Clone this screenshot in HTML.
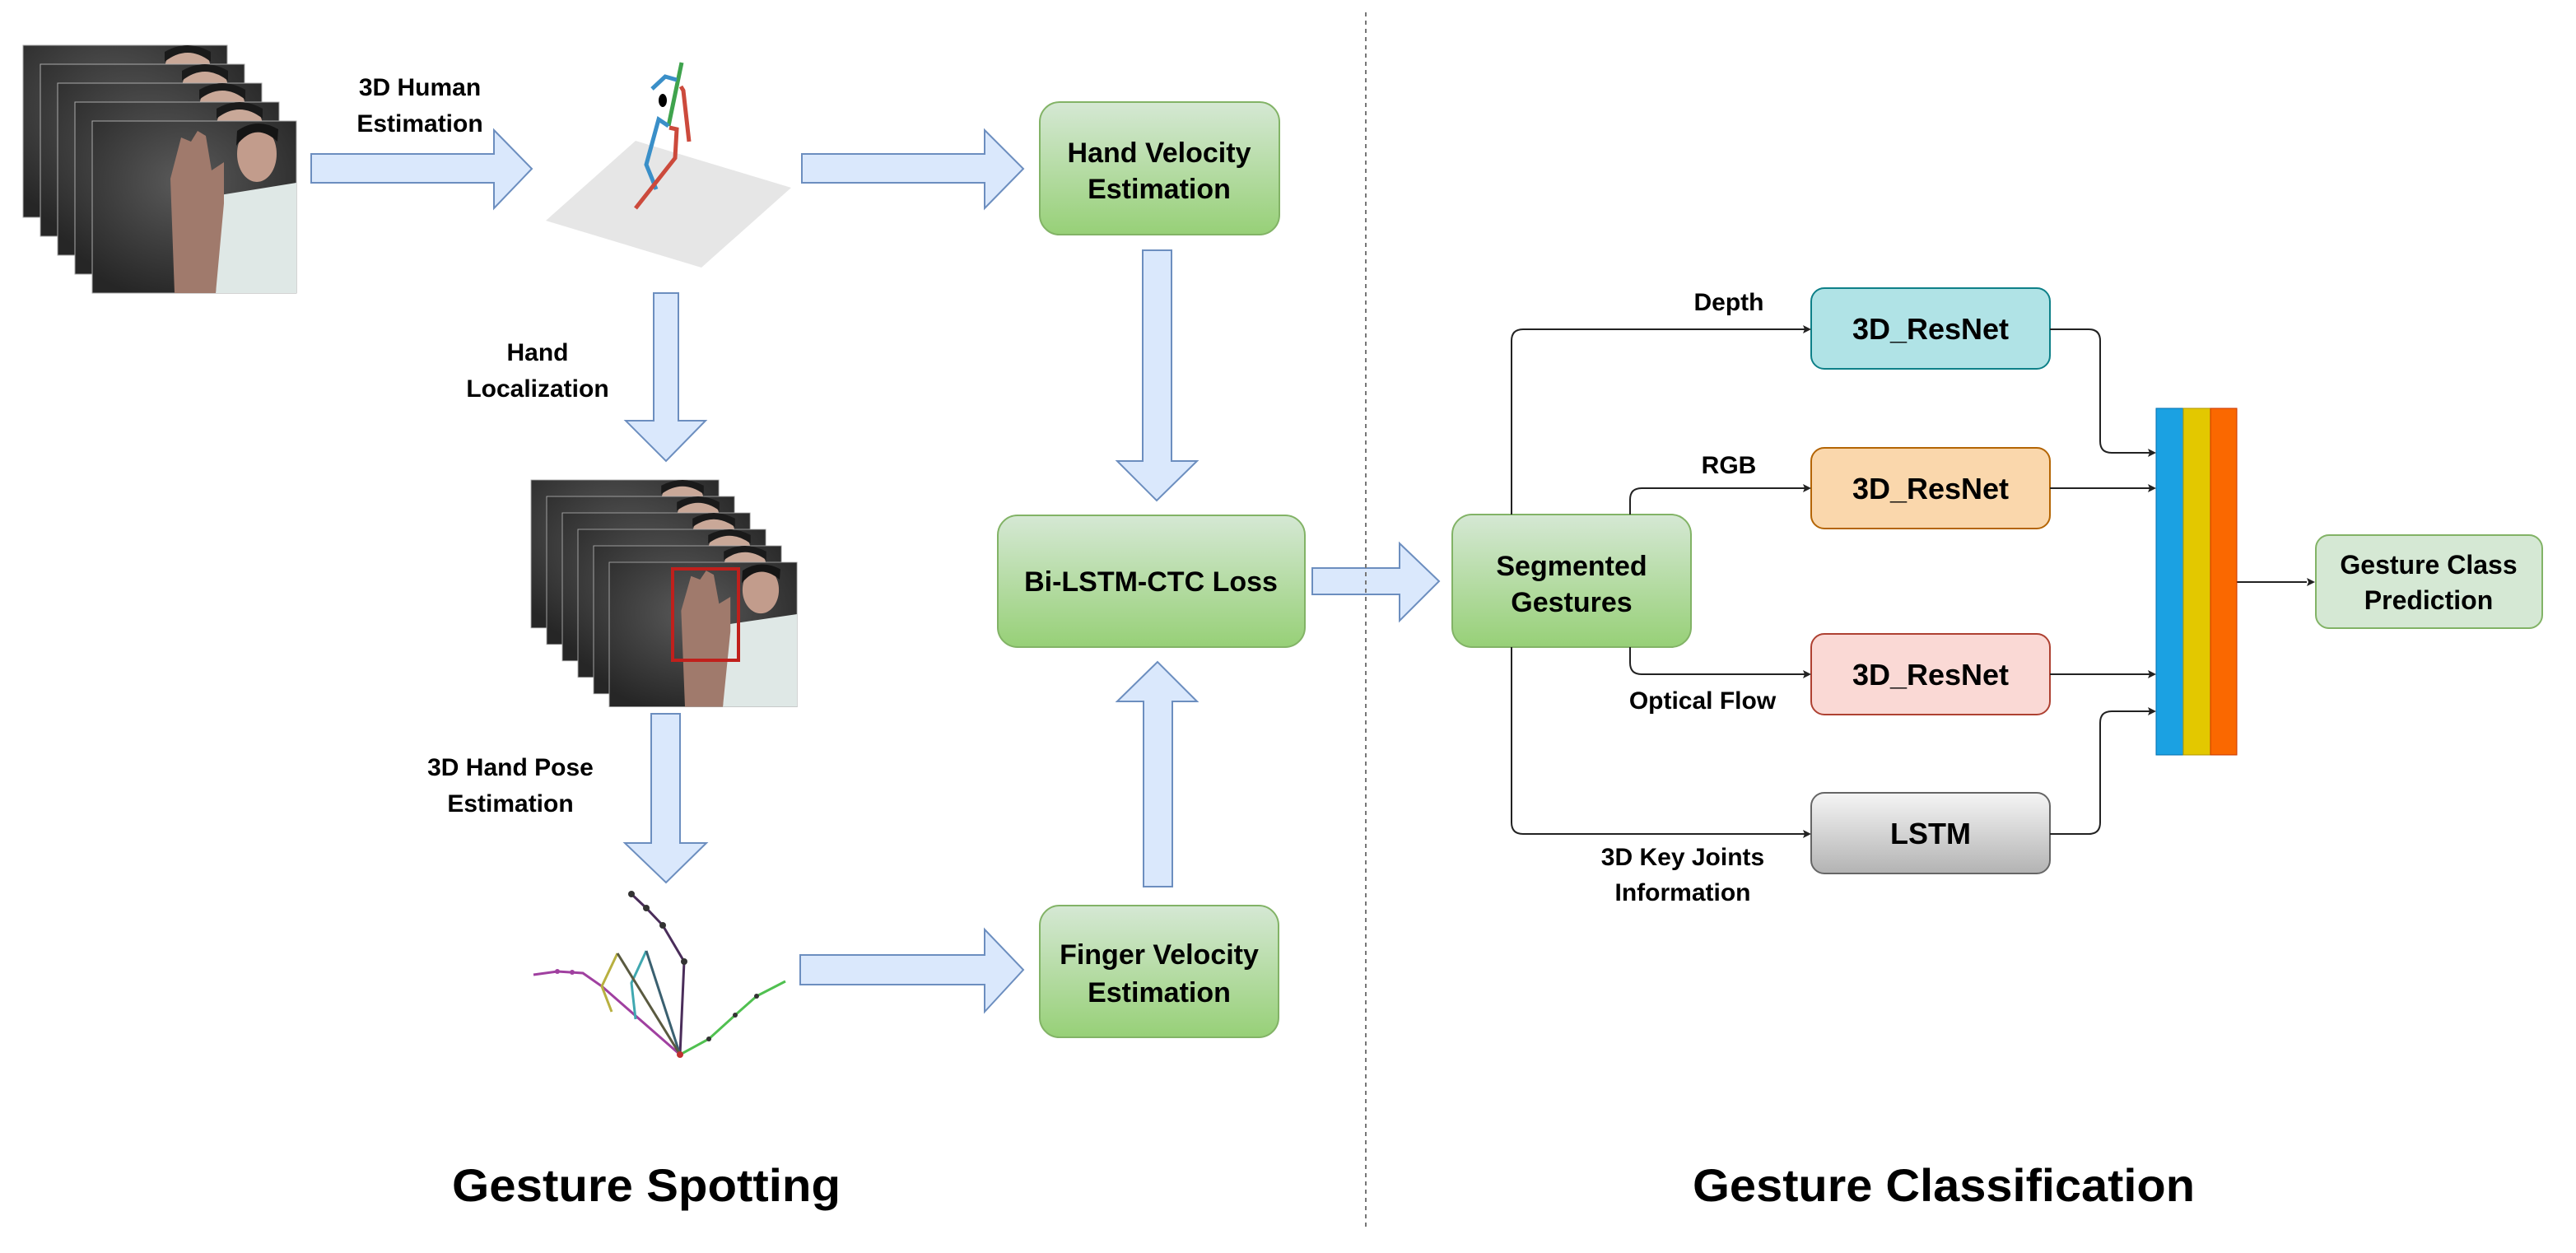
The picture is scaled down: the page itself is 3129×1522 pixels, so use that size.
<!DOCTYPE html>
<html><head><meta charset="utf-8"><style>
html,body{margin:0;padding:0;background:#fff;}
svg{display:block;}
text{font-family:"Liberation Sans",Arial,sans-serif;font-weight:bold;fill:#000;}
</style></head><body>
<svg width="3129" height="1522" viewBox="0 0 3129 1522" xmlns="http://www.w3.org/2000/svg">
<defs>
<linearGradient id="gg" x1="0" y1="0" x2="0" y2="1"><stop offset="0" stop-color="#d5e8d4"/><stop offset="1" stop-color="#97d077"/></linearGradient>
<linearGradient id="gr" x1="0" y1="0" x2="0" y2="1"><stop offset="0" stop-color="#f5f5f5"/><stop offset="1" stop-color="#b3b3b3"/></linearGradient>
<radialGradient id="bg" cx="0.45" cy="0.35" r="0.7"><stop offset="0" stop-color="#5a5a5a"/><stop offset="1" stop-color="#262626"/></radialGradient>
<g id="fr">
<rect x="0" y="0" width="248" height="209" fill="url(#bg)" stroke="#aaa" stroke-width="1"/>
<ellipse cx="200" cy="30" rx="28" ry="30" fill="#c9a898"/>
<path d="M172 20 Q200 -2 228 20 L228 8 Q200 -8 172 8Z" fill="#1a1a1a"/>
</g>
<g id="frf">
<rect x="0" y="0" width="248" height="209" fill="url(#bg)" stroke="#aaa" stroke-width="1"/>
<path d="M150 209 L155 90 L248 75 L248 209Z" fill="#dfe8e6"/>
<ellipse cx="200" cy="40" rx="24" ry="34" fill="#c29c8c"/>
<path d="M175 30 Q198 0 225 25 L226 10 Q200 -5 176 12Z" fill="#151515"/>
<path d="M100 209 L95 70 L108 20 L120 25 L128 12 L138 18 L145 60 L160 50 L160 100 L150 209Z" fill="#a07a6c"/>
</g>
</defs>

<!-- photo stack 1 -->
<use href="#fr" x="28" y="55"/>
<use href="#fr" x="49" y="78"/>
<use href="#fr" x="70" y="101"/>
<use href="#fr" x="91" y="124"/>
<use href="#frf" x="112" y="147"/>

<!-- photo stack 2 -->
<g transform="translate(645,583) scale(0.92,0.86)"><use href="#fr"/></g>
<g transform="translate(664,603) scale(0.92,0.86)"><use href="#fr"/></g>
<g transform="translate(683,623) scale(0.92,0.86)"><use href="#fr"/></g>
<g transform="translate(702,643) scale(0.92,0.86)"><use href="#fr"/></g>
<g transform="translate(721,663) scale(0.92,0.86)"><use href="#fr"/></g>
<g transform="translate(740,683) scale(0.92,0.84)"><use href="#frf"/></g>
<rect x="817" y="691" width="80" height="111" fill="none" stroke="#c0201c" stroke-width="4"/>

<!-- 3D human skeleton -->
<polygon points="663,268 772,171 961,228 852,325" fill="#e6e6e6"/>
<polyline points="828,76 812,153" fill="none" stroke="#3fa34d" stroke-width="5"/>
<polyline points="792,108 808,93 822,97" fill="none" stroke="#3a8fc8" stroke-width="5"/>
<polyline points="812,153 800,145 785,200 792,217 797,230" fill="none" stroke="#3a8fc8" stroke-width="5"/>
<polyline points="827,105 830,110 837,172" fill="none" stroke="#cc4a3c" stroke-width="5"/>
<polyline points="813,155 822,157 820,192 772,253" fill="none" stroke="#cc4a3c" stroke-width="5"/>
<ellipse cx="805" cy="122" rx="5" ry="8" fill="#000"/>

<!-- hand skeleton -->
<g fill="none" stroke-width="3">
<polyline points="767,1086 785,1103 805,1124 831,1168 826,1281" stroke="#4a2d5a"/>
<polyline points="648,1184 677,1180 708,1182 731,1198 826,1281" stroke="#a040a0"/>
<polyline points="750,1158 731,1198 743,1229" stroke="#b8b040"/>
<polyline points="785,1155 767,1194 772,1238" stroke="#40a8b0"/>
<polyline points="785,1155 826,1281" stroke="#3a6070"/>
<polyline points="750,1158 826,1281" stroke="#5a5a40"/>
<polyline points="954,1192 919,1210 893,1233 861,1262 826,1281" stroke="#50c050"/>
</g>
<g fill="#333"><circle cx="767" cy="1086" r="4"/><circle cx="785" cy="1103" r="4"/><circle cx="805" cy="1124" r="4"/><circle cx="831" cy="1168" r="4"/><circle cx="919" cy="1210" r="3"/><circle cx="893" cy="1233" r="3"/><circle cx="861" cy="1262" r="3"/><circle cx="826" cy="1281" r="4" fill="#c03030"/><circle cx="677" cy="1180" r="3" fill="#a040a0"/><circle cx="695" cy="1181" r="3" fill="#a040a0"/></g>

<!-- block arrows -->
<g fill="#dae8fc" stroke="#6c8ebf" stroke-width="2">
<polygon points="378,187 600,187 600,158 646,205 600,253 600,222 378,222"/>
<polygon points="974,187 1196,187 1196,158 1243,205 1196,253 1196,222 974,222"/>
<polygon points="972,1160 1196,1160 1196,1129 1243,1178 1196,1229 1196,1196 972,1196"/>
<polygon points="794,356 824,356 824,511 857,511 809,560 760,511 794,511"/>
<polygon points="791,867 826,867 826,1024 858,1024 809,1072 759,1024 791,1024"/>
<polygon points="1388,304 1423,304 1423,560 1454,560 1405,608 1357,560 1388,560"/>
<polygon points="1389,1077 1424,1077 1424,852 1454,852 1406,804 1357,852 1389,852"/>
<polygon points="1594,690 1700,690 1700,660 1748,706 1700,754 1700,722 1594,722"/>
</g>

<!-- dashed divider -->
<line x1="1659" y1="15" x2="1659" y2="1495" stroke="#777" stroke-width="2" stroke-dasharray="5,5"/>

<!-- left boxes -->
<rect x="1263" y="124" width="291" height="161" rx="24" fill="url(#gg)" stroke="#82b366" stroke-width="2"/>
<rect x="1212" y="626" width="373" height="160" rx="24" fill="url(#gg)" stroke="#82b366" stroke-width="2"/>
<rect x="1263" y="1100" width="290" height="160" rx="24" fill="url(#gg)" stroke="#82b366" stroke-width="2"/>
<text x="1408" y="197" font-size="34" text-anchor="middle">Hand Velocity</text>
<text x="1408" y="241" font-size="34" text-anchor="middle">Estimation</text>
<text x="1398" y="718" font-size="34" text-anchor="middle">Bi-LSTM-CTC Loss</text>
<text x="1408" y="1171" font-size="34" text-anchor="middle">Finger Velocity</text>
<text x="1408" y="1217" font-size="34" text-anchor="middle">Estimation</text>

<!-- left labels -->
<text x="510" y="116" font-size="30" text-anchor="middle">3D Human</text>
<text x="510" y="160" font-size="30" text-anchor="middle">Estimation</text>
<text x="653" y="438" font-size="30" text-anchor="middle">Hand</text>
<text x="653" y="482" font-size="30" text-anchor="middle">Localization</text>
<text x="620" y="942" font-size="30" text-anchor="middle">3D Hand Pose</text>
<text x="620" y="986" font-size="30" text-anchor="middle">Estimation</text>

<!-- right side -->
<rect x="1764" y="625" width="290" height="161" rx="24" fill="url(#gg)" stroke="#82b366" stroke-width="2"/>
<text x="1909" y="699" font-size="34" text-anchor="middle">Segmented</text>
<text x="1909" y="743" font-size="34" text-anchor="middle">Gestures</text>

<rect x="2200" y="350" width="290" height="98" rx="16" fill="#b0e3e6" stroke="#0e8088" stroke-width="2"/>
<rect x="2200" y="544" width="290" height="98" rx="16" fill="#fad7ac" stroke="#b46504" stroke-width="2"/>
<rect x="2200" y="770" width="290" height="98" rx="16" fill="#fad9d5" stroke="#ae4132" stroke-width="2"/>
<rect x="2200" y="963" width="290" height="98" rx="16" fill="url(#gr)" stroke="#666" stroke-width="2"/>
<text x="2345" y="412" font-size="36" text-anchor="middle">3D_ResNet</text>
<text x="2345" y="606" font-size="36" text-anchor="middle">3D_ResNet</text>
<text x="2345" y="832" font-size="36" text-anchor="middle">3D_ResNet</text>
<text x="2345" y="1025" font-size="36" text-anchor="middle">LSTM</text>

<g fill="none" stroke="#222" stroke-width="2">
<path d="M1836 625 V414 Q1836 400 1850 400 H2192"/>
<path d="M1980 625 V607 Q1980 593 1994 593 H2192"/>
<path d="M1980 786 V805 Q1980 819 1994 819 H2192"/>
<path d="M1836 786 V999 Q1836 1013 1850 1013 H2192"/>
<path d="M2490 400 H2537 Q2551 400 2551 414 V536 Q2551 550 2565 550 H2611"/>
<path d="M2490 593 H2611"/>
<path d="M2490 819 H2611"/>
<path d="M2490 1013 H2537 Q2551 1013 2551 999 V878 Q2551 864 2565 864 H2611"/>
<path d="M2717 707 H2802"/>
</g>
<g fill="#222">
<polygon points="2200,400 2190,395 2192,400 2190,405"/>
<polygon points="2200,593 2190,588 2192,593 2190,598"/>
<polygon points="2200,819 2190,814 2192,819 2190,824"/>
<polygon points="2200,1013 2190,1008 2192,1013 2190,1018"/>
<polygon points="2619,550 2609,545 2611,550 2609,555"/>
<polygon points="2619,593 2609,588 2611,593 2609,598"/>
<polygon points="2619,819 2609,814 2611,819 2609,824"/>
<polygon points="2619,864 2609,859 2611,864 2609,869"/>
<polygon points="2812,707 2802,702 2804,707 2802,712"/>
</g>

<text x="2100" y="377" font-size="30" text-anchor="middle">Depth</text>
<text x="2100" y="575" font-size="30" text-anchor="middle">RGB</text>
<text x="2068" y="861" font-size="30" text-anchor="middle">Optical Flow</text>
<text x="2044" y="1051" font-size="30" text-anchor="middle">3D Key Joints</text>
<text x="2044" y="1094" font-size="30" text-anchor="middle">Information</text>

<rect x="2619" y="496" width="33" height="421" fill="#1ba1e2" stroke="#006eaf" stroke-width="1"/>
<rect x="2652" y="496" width="33" height="421" fill="#e3c800" stroke="#b09500" stroke-width="1"/>
<rect x="2685" y="496" width="32" height="421" fill="#fa6800" stroke="#c73500" stroke-width="1"/>

<rect x="2813" y="650" width="275" height="113" rx="16" fill="#d5e8d4" stroke="#82b366" stroke-width="2"/>
<text x="2950" y="697" font-size="32" text-anchor="middle">Gesture Class</text>
<text x="2950" y="740" font-size="32" text-anchor="middle">Prediction</text>

<text x="785" y="1459" font-size="56" text-anchor="middle" textLength="472" lengthAdjust="spacingAndGlyphs">Gesture Spotting</text>
<text x="2361" y="1459" font-size="56" text-anchor="middle" textLength="610" lengthAdjust="spacingAndGlyphs">Gesture Classification</text>
</svg>
</body></html>
